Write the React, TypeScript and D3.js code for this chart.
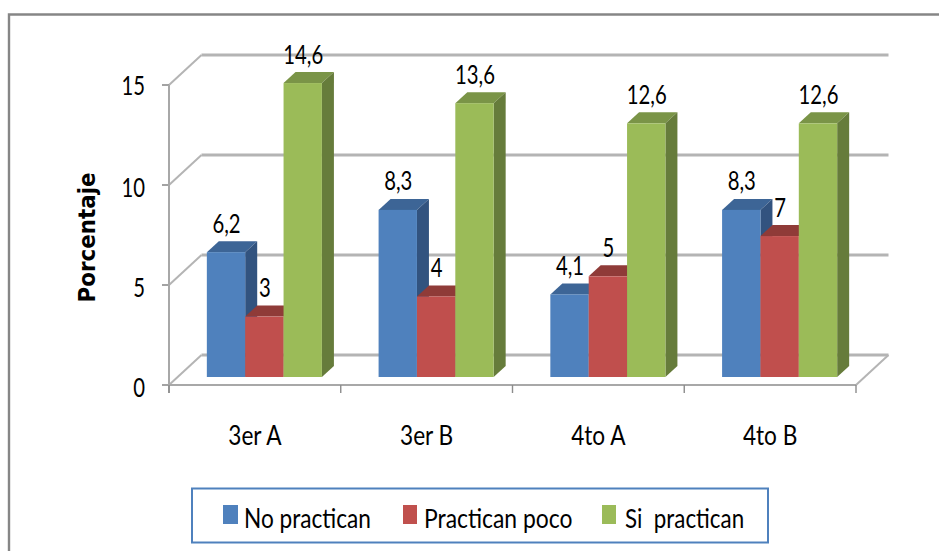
import React from "react";
import * as d3 from "d3";

const categories = ["3er A", "3er B", "4to A", "4to B"];
const seriesNames = ["No practican", "Practican poco", "Si  practican"];
const noPractican = [6.2, 8.3, 4.1, 8.3];
const practicanPoco = [3, 4, 5, 7];
const siPractican = [14.6, 13.6, 12.6, 12.6];
const yTicks = [0, 5, 10, 15];

const fills = ["#4f81bd", "#c0504d", "#9bbb59"];
const tops = ["#3d6596", "#8f3b38", "#7a9446"];
const sides = ["#32537f", "#8a3532", "#667b3a"];

const values = [noPractican, practicanPoco, siPractican];
const comma = (v: number) => String(v).replace(".", ",");

const FONT = "Lato, Carlito, sans-serif";
const AXIS = "#a8a8a8";

const x0 = d3.scaleBand<string>().domain(categories).range([169, 856]).paddingInner(0.33).paddingOuter(0.165);
const x1 = d3.scaleBand<number>().domain([0, 1, 2]).range([0, x0.bandwidth()]);
const yAxis = d3.scaleLinear().domain([0, 15]).range([385, 85]);
const yBar = d3.scaleLinear().domain([0, 15]).range([377, 75]);
const BACK = { dx: 32.5, dy: -30 };
const BAR_SHIFT = 9.5;
const DEPTH = { dx: 12, dy: -11 };

function T({ x, y, children, sx = 0.78, size = 26, anchor = "middle" }: any) {
  return (
    <text
      transform={`translate(${x},${y}) scale(${sx},1)`}
      textAnchor={anchor}
      fontFamily={FONT}
      fontSize={size}
      fill="#000"
    >
      {children}
    </text>
  );
}

const legendSwatchX = [223, 403, 602];
const legendTextX = [244, 424, 625];
const legendStretch = [0.87, 0.88, 0.86];

export default function App() {
  const xEnd = 856;
  const xStart = 169;
  return (
    <svg width={939} height={551} style={{ position: "absolute", left: 0, top: 0, background: "#fff" }}>
      <defs>
        <filter id="soft" x="-2%" y="-2%" width="104%" height="104%">
          <feGaussianBlur stdDeviation="0.45" />
        </filter>
      </defs>
      <g filter="url(#soft)">
        <path d="M939,14.5H9V551" fill="none" stroke="#868686" strokeWidth={2.4} />
        {yTicks.map((t) => (
          <g key={t}>
            <line x1={xStart + BACK.dx} x2={xEnd + BACK.dx} y1={yAxis(t) + BACK.dy} y2={yAxis(t) + BACK.dy} stroke="#b4b4b4" strokeWidth={3} />
            <line x1={xStart} x2={xStart + BACK.dx} y1={yAxis(t)} y2={yAxis(t) + BACK.dy} stroke="#b4b4b4" strokeWidth={2} />
            <line x1={xStart - 7} x2={xStart} y1={yAxis(t)} y2={yAxis(t)} stroke="#8c8c8c" strokeWidth={1.6} />
          </g>
        ))}
        <line x1={xEnd} x2={xEnd + BACK.dx} y1={yAxis(0)} y2={yAxis(0) + BACK.dy} stroke="#b4b4b4" strokeWidth={2} />
        <line x1={xStart} x2={xStart} y1={yAxis(15)} y2={yAxis(0) + 8} stroke={AXIS} strokeWidth={2} />
        <line x1={xStart - 1} x2={xEnd} y1={yAxis(0)} y2={yAxis(0)} stroke={AXIS} strokeWidth={2} />
        {[...categories.map((c) => (x0(c) as number) - x0.step() * 0.165), xEnd].map((px) => (
          <line key={px} x1={px} x2={px} y1={yAxis(0)} y2={yAxis(0) + 8} stroke="#8c8c8c" strokeWidth={1.4} />
        ))}

        {categories.map((c, i) => (
          <g key={c}>
            {values.map((vals, s) => {
              const left = (x0(c) as number) + BAR_SHIFT + (x1(s) as number);
              const w = x1.bandwidth();
              const top = yBar(vals[i]);
              const base = yBar(0);
              const { dx, dy } = DEPTH;
              return (
                <g key={s}>
                  <polygon points={`${left},${top} ${left + dx},${top + dy} ${left + w + dx},${top + dy} ${left + w},${top}`} fill={tops[s]} />
                  <polygon points={`${left + w},${top} ${left + w + dx},${top + dy} ${left + w + dx},${base + dy} ${left + w},${base}`} fill={sides[s]} />
                  <rect x={left} y={top} width={w} height={base - top} fill={fills[s]} />
                </g>
              );
            })}
          </g>
        ))}
      </g>

      {yTicks.map((t) => (
        <T key={t} x={145} y={yAxis(t) + (t === 15 ? 10 : 12)} anchor="end">{t}</T>
      ))}
      <text
        transform="translate(94.5,237.5) rotate(-90)"
        textAnchor="middle"
        fontFamily="'DejaVu Sans', sans-serif"
        fontWeight="bold"
        fontSize={23}
        textLength={130}
        lengthAdjust="spacingAndGlyphs"
      >
        Porcentaje
      </text>
      {categories.map((c, i) => (
        <g key={c}>
          <T x={(x0(c) as number) + x0.bandwidth() / 2} y={445} sx={0.87}>{c}</T>
          {values.map((vals, s) => (
            <T
              key={s}
              x={(x0(c) as number) + BAR_SHIFT + (x1(s) as number) + x1.bandwidth() / 2 + 0.5}
              y={yBar(vals[i]) - 19.5}
            >
              {comma(vals[i])}
            </T>
          ))}
        </g>
      ))}

      <rect x={192} y={488.5} width={576} height={54} fill="#fff" stroke="#4f81bd" strokeWidth={2} />
      {seriesNames.map((n, s) => (
        <g key={n}>
          <rect x={legendSwatchX[s]} y={505} width={s === 0 ? 15 : 14} height={19} fill={fills[s]} />
          <T x={legendTextX[s]} y={528} anchor="start" sx={legendStretch[s]}>
            <tspan style={{ whiteSpace: "pre" }}>{n}</tspan>
          </T>
        </g>
      ))}
    </svg>
  );
}
